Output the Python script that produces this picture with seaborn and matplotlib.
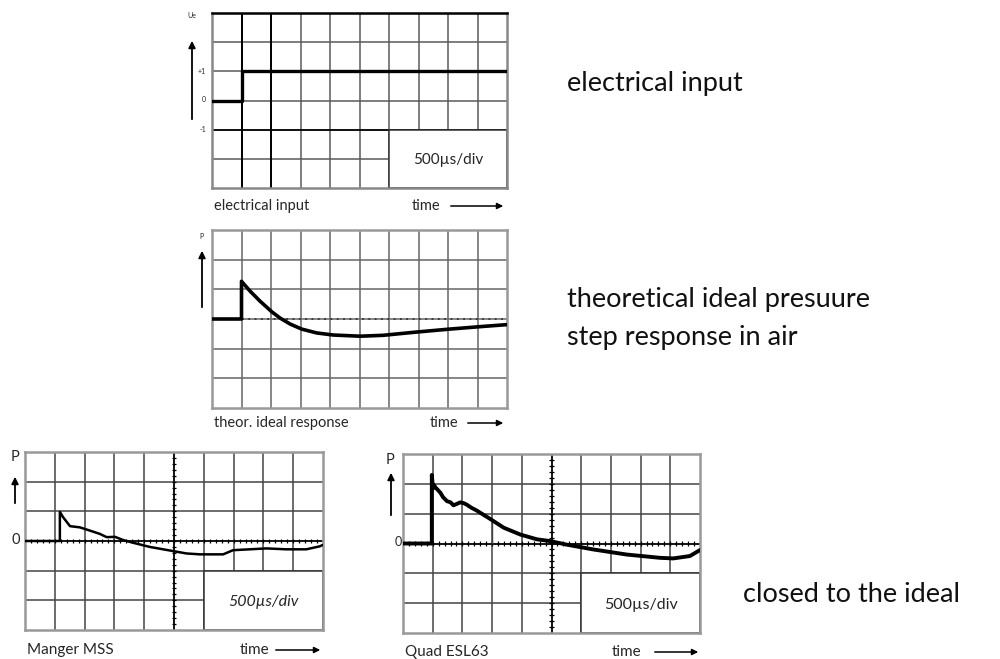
import numpy as np
import matplotlib
matplotlib.use('Agg')
import matplotlib.pyplot as plt
from matplotlib.patches import Rectangle
import seaborn as sns

sns.set_style('white')
plt.rcParams['font.family'] = ['Lato', 'DejaVu Sans']

# time in divisions, level in divisions (500us/div)
input_t = [0, 1, 1, 10]
input_u = [0, 0, 1, 1]

ideal_t = [0, 1, 1, 1.3, 1.63, 2.03, 2.31, 2.65, 3.04, 3.55, 4.11, 5.02, 5.8, 6.93, 8.06, 9.19, 10]
ideal_p = [0, 0, 1.27, 0.93, 0.6, 0.24, 0.03, -0.17, -0.34, -0.47, -0.54, -0.58, -0.55, -0.44, -0.34, -0.25, -0.19]

manger_t = [0, 1.17, 1.17, 1.28, 1.51, 1.84, 2.18, 2.51, 2.74, 3.02, 3.3, 3.63, 4.19, 4.97,
            5.42, 5.87, 6.65, 6.98, 7.54, 8.1, 8.77, 9.44, 9.89, 10]
manger_p = [0, 0, 0.98, 0.8, 0.5, 0.46, 0.35, 0.24, 0.13, 0.14, 0.03, -0.06, -0.2, -0.34,
            -0.42, -0.45, -0.45, -0.31, -0.28, -0.25, -0.28, -0.28, -0.18, -0.13]

quad_t = [0, 0.97, 0.97, 1.01, 1.05, 1.09, 1.15, 1.26, 1.35, 1.48, 1.6, 1.7, 1.82, 1.93, 2.05,
          2.15, 2.3, 2.49, 2.94, 3.39, 3.95, 4.51, 4.96, 5.52, 6.41, 7.53, 8.65, 9.1, 9.66, 10]
quad_p = [0, 0, 2.3, 1.85, 1.95, 1.88, 1.82, 1.7, 1.55, 1.42, 1.38, 1.28, 1.33, 1.38, 1.35,
          1.3, 1.2, 1.1, 0.82, 0.53, 0.3, 0.14, 0.08, -0.04, -0.2, -0.37, -0.48, -0.5, -0.42, -0.22]

W, H = 1000, 659
fig = plt.figure(figsize=(W/100, H/100), dpi=100)

def fpx(x, y):  # pixel -> figure fraction
    return (x/W, 1 - y/H)

def box_axes(x0, y0, x1, y1):
    return fig.add_axes([x0/W, 1 - y1/H, (x1-x0)/W, (y1-y0)/H])

def screen(ax, grid_col, frame_col, lw=1.1, box=True, italic=False, bsize=11):
    ax.set_xlim(0, 10)
    ax.set_ylim(-3, 3)
    ax.set_xticks([]), ax.set_yticks([])
    for gx in range(1, 10):
        ax.axvline(gx, color=grid_col, lw=lw, zorder=1)
    for gy in range(-2, 3):
        ax.axhline(gy, color=grid_col, lw=lw, zorder=1)
    for s in ax.spines.values():
        s.set_color(frame_col)
        s.set_linewidth(1.8)
    if box:
        ax.add_patch(Rectangle((6, -3), 4, 2, facecolor='white', edgecolor='#333', lw=lw, zorder=2))
        ax.text(8, -2.05, '500µs/div', ha='center', va='center', fontsize=bsize,
                style='italic' if italic else 'normal', zorder=3)

def cross_ticks(ax):
    # tick marks on centre lines, like a scope graticule
    ax.axhline(0, color='k', lw=1.1, zorder=1.5)
    ax.axvline(5, color='k', lw=1.1, zorder=1.5)
    mx = np.arange(0.2, 10, 0.2)
    ax.vlines(mx, -0.07, 0.07, color='k', lw=0.9, zorder=1.5)
    my = np.arange(-2.8, 3, 0.2)
    ax.hlines(my, 4.92, 5.08, color='k', lw=0.9, zorder=1.5)

def bottom_label(x_left, y, label, x_time, x_a0, x_a1, size):
    fig.text(*fpx(x_left, y), label, ha='left', va='center', fontsize=size)
    fig.text(*fpx(x_time, y), 'time', ha='left', va='center', fontsize=size)
    fig.patches.append(matplotlib.patches.FancyArrowPatch(
        fpx(x_a0, y), fpx(x_a1, y), transform=fig.transFigure, arrowstyle='-|>',
        mutation_scale=9, lw=1.1, color='k'))

def up_arrow(x, y0, y1):
    fig.patches.append(matplotlib.patches.FancyArrowPatch(
        fpx(x, y0), fpx(x, y1), transform=fig.transFigure, arrowstyle='-|>',
        mutation_scale=10, lw=1.3, color='k'))

# electrical input
ax1 = box_axes(212, 13, 507, 188)
screen(ax1, '#5a5a5a', '#888')
ax1.axvline(1, color='k', lw=1.4, zorder=1.2)
ax1.axvline(2, color='k', lw=1.4, zorder=1.2)
ax1.axhline(-1, color='k', lw=1.2, zorder=1.2)
ax1.spines['top'].set_color('k')
sns.lineplot(x=input_t, y=input_u, ax=ax1, color='k', lw=2.4, sort=False, estimator=None, zorder=4)
fig.text(*fpx(192, 16), 'Ue', ha='center', va='center', fontsize=5)
for lab, yy in [('+1', 71), ('0', 100), ('-1', 129)]:
    fig.text(*fpx(206, yy), lab, ha='right', va='center', fontsize=5)
up_arrow(192, 122, 38)
bottom_label(214, 206, 'electrical input', 412, 448, 506, 10.5)

# theoretical ideal
ax2 = box_axes(212, 230, 507, 408)
screen(ax2, '#666', '#999', box=False)
ax2.hlines(0, 1, 10, color='#333', lw=1.3, linestyles=(0, (1, 2.5)), zorder=1.5)
sns.lineplot(x=ideal_t, y=ideal_p, ax=ax2, color='k', lw=2.6, sort=False, estimator=None, zorder=4)
fig.text(*fpx(202, 236), 'P', ha='center', va='center', fontsize=5)
up_arrow(202, 310, 248)
bottom_label(214, 423, 'theor. ideal response', 430, 465, 506, 10.5)

# Manger MSS
ax3 = box_axes(25, 452, 323, 630)
screen(ax3, '#444', '#999', italic=True, bsize=11.5)
cross_ticks(ax3)
sns.lineplot(x=manger_t, y=manger_p, ax=ax3, color='k', lw=1.8, sort=False, estimator=None, zorder=4)
fig.text(*fpx(15, 457), 'P', ha='center', va='center', fontsize=10.5)
up_arrow(15, 506, 474)
fig.text(*fpx(20, 540), '0', ha='right', va='center', fontsize=10.5)
bottom_label(27, 650, 'Manger MSS', 240, 273, 323, 11)

# Quad ESL63
ax4 = box_axes(403, 454, 700, 633)
screen(ax4, '#444', '#999', bsize=11.5)
cross_ticks(ax4)
ax4.vlines(3, 0, 0.8, color='#444', lw=1.0, zorder=1.5)
sns.lineplot(x=quad_t, y=quad_p, ax=ax4, color='k', lw=2.8, sort=False, estimator=None, zorder=4)
fig.text(*fpx(390, 460), 'P', ha='center', va='center', fontsize=10.5)
up_arrow(391, 518, 470)
fig.text(*fpx(402, 542), '0', ha='right', va='center', fontsize=9)
bottom_label(405, 652, 'Quad ESL63', 612, 652, 701, 11)

# side notes
note = dict(ha='left', va='center', fontsize=19.5, color='#111')
fig.text(*fpx(567, 83), 'electrical input', **note)
fig.text(*fpx(567, 300), 'theoretical ideal presuure', **note)
fig.text(*fpx(567, 337), 'step response in air', **note)
fig.text(*fpx(743, 595), 'closed to the ideal', **note)

fig.savefig('out.png', dpi=100)
